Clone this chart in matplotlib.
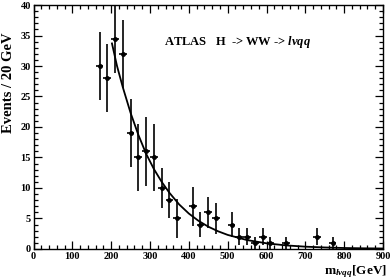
import numpy as np
import matplotlib
matplotlib.use("Agg")
import matplotlib.pyplot as plt
from matplotlib.ticker import MultipleLocator

plt.rcParams['font.family'] = ['Liberation Serif', 'DejaVu Serif']
plt.rcParams['font.weight'] = 'bold'
plt.rcParams['mathtext.fontset'] = 'custom'
plt.rcParams['mathtext.rm'] = 'Liberation Serif:bold'
plt.rcParams['mathtext.it'] = 'Liberation Serif:italic'

# measured points (bin centres, 20 GeV bins)
mass = [170, 190, 210, 230, 250, 270, 290, 310, 330, 350, 370,
        410, 430, 450, 470, 510, 530, 550, 570, 590, 610, 650, 730, 770]
events = [30, 28, 34.5, 32, 19, 15, 16, 15, 10, 8, 5,
          7, 4, 6, 5, 4, 2, 2, 1, 2, 1, 1, 2, 1]
err = [5.6, 5.6, 5.6, 5.6, 5.6, 5.5, 5.6, 5.5, 3.3, 3.0, 3.2,
       3.2, 2.0, 2.5, 2.5, 2.0, 1.4, 1.4, 1.0, 1.4, 1.0, 1.0, 1.4, 1.0]
bin_half = 10

# fitted curve
fit_x = [202, 215, 230, 250, 270, 290, 310, 330, 350, 375, 400, 425, 450,
         475, 500, 550, 600, 650, 700, 750, 800, 850, 900]
fit_y = [33.7, 30.0, 26.5, 22.3, 18.7, 15.6, 13.1, 11.0, 9.2, 7.3, 5.8, 4.6, 3.65,
         2.9, 2.3, 1.45, 0.92, 0.58, 0.37, 0.24, 0.15, 0.10, 0.07]

fig = plt.figure(figsize=(3.9, 2.8), dpi=100)
ax = fig.add_axes([0.086, 0.111, 0.896, 0.871])

ax.errorbar(mass, events, yerr=err, xerr=bin_half, fmt='o', color='black',
            markersize=2.5, elinewidth=1.2, capsize=0)
ax.plot(fit_x, fit_y, color='black', lw=1.3)

ax.set_xlim(0, 900)
ax.set_ylim(0, 40)
ax.xaxis.set_major_locator(MultipleLocator(100))
ax.xaxis.set_minor_locator(MultipleLocator(20))
ax.yaxis.set_major_locator(MultipleLocator(5))
ax.yaxis.set_minor_locator(MultipleLocator(1))
ax.tick_params(which='both', direction='in', top=True, right=True,
               labelsize=7.5, width=0.9, pad=2)
ax.tick_params(which='major', length=6)
ax.tick_params(which='minor', length=3)
for s in ax.spines.values():
    s.set_linewidth(1.0)

ax.set_ylabel('Events / 20 GeV', fontsize=10.5, fontweight='bold')
ax.yaxis.set_label_coords(-0.054, 0.68)
fig.text(0.993, 0.0, r'$\mathrm{m}_{l\nu qq}$[GeV]', ha='right', va='bottom',
         fontsize=9.5, fontweight='bold')

ax.text(335, 34.0, r'ATLAS   H  -> WW -> $\mathit{l\nu qq}$', fontsize=9,
        fontweight='bold', ha='left', va='center')

fig.savefig('out.png', dpi=100)
